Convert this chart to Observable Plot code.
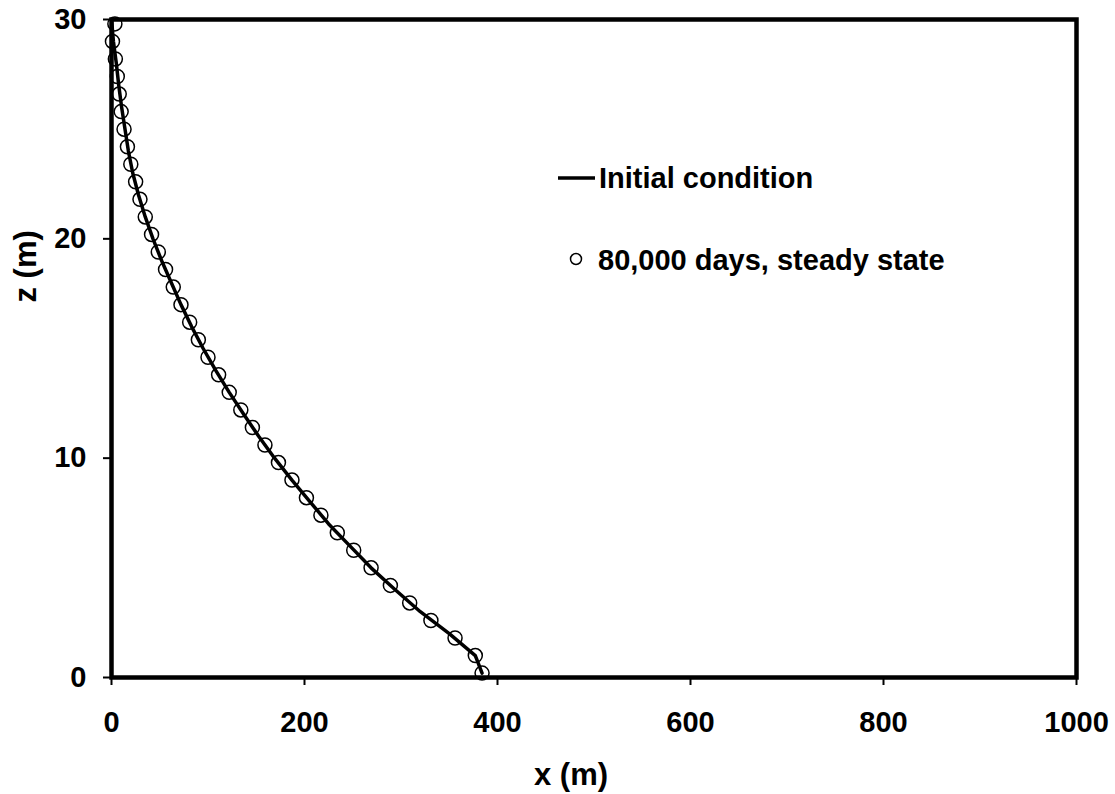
<!DOCTYPE html>
<html><head><meta charset="utf-8">
<script src="https://cdn.jsdelivr.net/npm/d3@7"></script>
<script src="https://cdn.jsdelivr.net/npm/@observablehq/plot@0.6"></script>
<style>
body{margin:0;background:#fff;}
#wrap{position:relative;width:1115px;height:794px;font-family:"Liberation Sans",Arial,sans-serif;font-weight:bold;}
#legend{position:absolute;left:0;top:0;pointer-events:none;}
</style>
</head><body><div id="wrap"></div>
<script>
// Steady state (80,000 days) – circles
const steadyZ = [0.2,1.0,1.8,2.6,3.4,4.2,5.0,5.8,6.6,7.4,8.2,9.0,9.8,10.6,11.4,12.2,13.0,13.8,14.6,15.4,16.2,17.0,17.8,18.6,19.4,20.2,21.0,21.8,22.6,23.4,24.2,25.0,25.8,26.6,27.4,28.2,29.0,29.8];
const steadyX = [384,377,356,331,309,289,269,251,234,217,202,187,173,159,146,134,122,111,100,90,81,72,64,56,48.5,41.5,35,29.5,25,20,16.5,13,10,8,6,4,1,3.5];
// Initial condition – solid line
const initZ = [0.2,1,2,3,4,5,6,7,8,9,10,11,12,13,14,15,16,17,18,19,20,21,22,23,24,25,26,27,28,29,30];
const initX = [384,377,350,320,294,269,247,225,206,187,169,152.5,137,122,108,95,83,72,62,52,43,35,28,22,17.5,14,10.5,7.5,5,2,0];
const xTicks = [0,200,400,600,800,1000];
const yTicks = [0,10,20,30];
const xTitle = "x (m)";
const yTitle = "z (m)";
const legendLabels = ["Initial condition","80,000 days, steady state"];

const steady = steadyZ.map((z,i)=>({x:steadyX[i], z}));
const init = initZ.map((z,i)=>({x:initX[i], z}));

const chart = Plot.plot({
  width: 1115, height: 794,
  marginLeft: 111, marginRight: 39, marginTop: 19, marginBottom: 117,
  style: {fontFamily: '"Liberation Sans", Arial, sans-serif', fontWeight: "bold", fontSize: "29px", color: "#000", background: "#fff"},
  x: {domain: [0,1000]},
  y: {domain: [0,30]},
  marks: [
    Plot.axisX({ticks: xTicks, tickSize: 8, tickPadding: 26, strokeWidth: 2, label: null, tickFormat: d=>String(d)}),
    Plot.axisY({ticks: yTicks, tickSize: 8, tickPadding: 17, strokeWidth: 2, label: null, tickFormat: d=>String(d)}),
    Plot.dot(steady, {x:"x", y:"z", r: 7, stroke: "#000", strokeWidth: 1.5, fill: "none"}),
    Plot.line(init, {x:"x", y:"z", stroke: "#000", strokeWidth: 3.5, curve: "linear"}),
    Plot.frame({stroke: "#000", strokeWidth: 4.5}),
    Plot.text([xTitle], {frameAnchor: "bottom", dx: -23, dy: 98, lineAnchor: "middle", fontSize: 31, fontWeight: "bold", text: d=>d}),
    Plot.text([yTitle], {frameAnchor: "left", dx: -85, dy: -46, rotate: -90, lineAnchor: "middle", fontSize: 31, fontWeight: "bold", text: d=>d})
  ]
});
const wrap = document.getElementById("wrap");
wrap.appendChild(chart);

// Legend overlay
const ns = "http://www.w3.org/2000/svg";
const lg = document.createElementNS(ns, "svg");
lg.setAttribute("id","legend");
lg.setAttribute("width","1115"); lg.setAttribute("height","794");
lg.innerHTML = `
  <line x1="558" x2="595" y1="178" y2="178" stroke="#000" stroke-width="3.5"/>
  <text x="599" y="188" font-size="29" font-weight="bold" font-family="Liberation Sans, Arial, sans-serif">${legendLabels[0]}</text>
  <circle cx="576" cy="259" r="5.5" fill="none" stroke="#000" stroke-width="1.5"/>
  <text x="598" y="270" font-size="29" font-weight="bold" font-family="Liberation Sans, Arial, sans-serif" xml:space="preserve">${legendLabels[1]}</text>
`;
wrap.appendChild(lg);
</script>
</body></html>
